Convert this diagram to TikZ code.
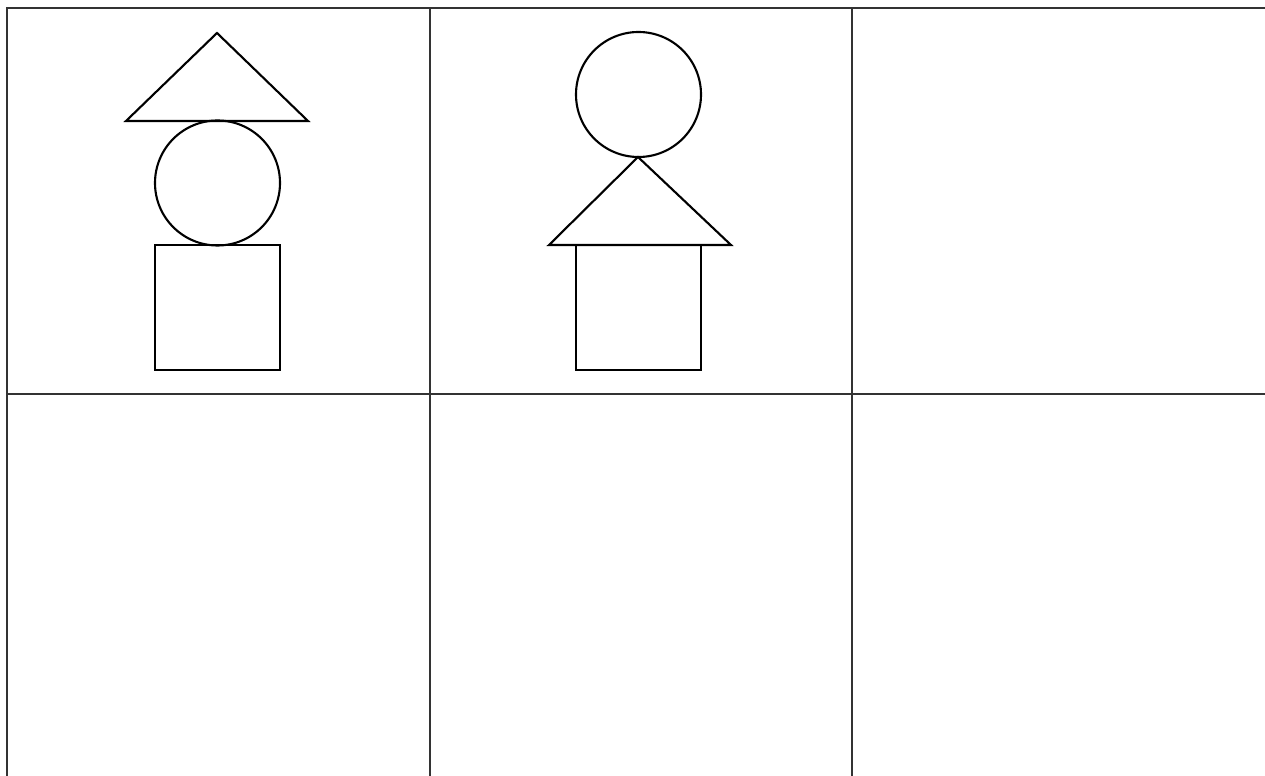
\documentclass[tikz,border=0pt]{standalone}
\usepackage{tikz}
\usetikzlibrary{calc}

\tikzset{
  gridline/.style={line width=1.1pt, black!80},
  shapeline/.style={line width=1.2pt, black}
}

\begin{document}
\begin{tikzpicture}[x=0.02cm, y=-0.02cm]
    \useasboundingbox (0,0) rectangle (1265,776);
    % grid
    \coordinate (TL) at (7,8);
    \draw[gridline] (7,776) -- (TL) -- (1265,8);
    \draw[gridline] (7,394) -- (1265,394);
    \foreach \gx in {430,852} \draw[gridline] (\gx,8) -- (\gx,776);

    % cell 1: triangle, circle, square
    \coordinate (T1) at (217,33);
    \draw[shapeline, line join=miter] (T1) -- (308,121) -- (126,121) -- cycle;
    \draw[shapeline] (217.5,183) circle (62.5);
    \draw[shapeline] (155,245) rectangle (280,370);

    % cell 2: circle, triangle, square
    \coordinate (T2) at (638,157);
    \draw[shapeline] (638.5,94.5) circle (62.5);
    \draw[shapeline, line join=miter] (T2) -- (731,245) -- (549,245) -- cycle;
    \draw[shapeline] (576,245) rectangle (701,370);
\end{tikzpicture}
\end{document}
